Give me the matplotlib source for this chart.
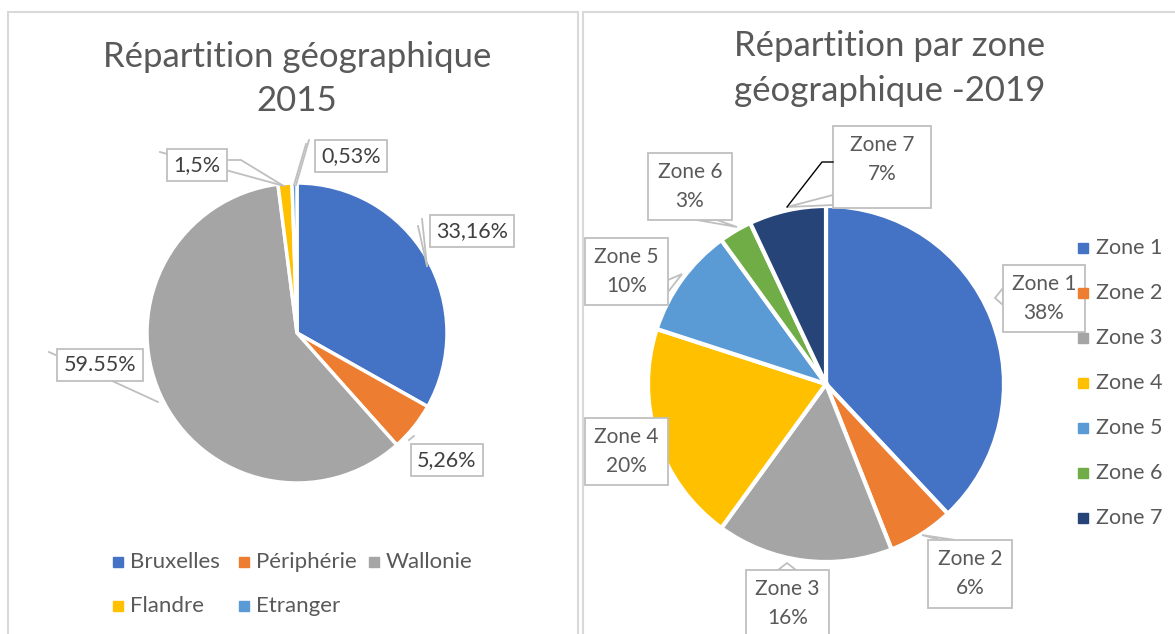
import numpy as np
import matplotlib
matplotlib.use("Agg")
import matplotlib.pyplot as plt
from matplotlib.patches import Rectangle, Polygon

plt.rcParams['font.family'] = ['Lato', 'DejaVu Sans']

# données 2015
regions_2015 = ['Bruxelles', 'Périphérie', 'Wallonie', 'Flandre', 'Etranger']
valeurs_2015 = [33.16, 5.26, 59.55, 1.5, 0.53]
etiquettes_2015 = ['33,16%', '5,26%', '59.55%', '1,5%', '0,53%']
couleurs_2015 = ['#4472C4', '#ED7D31', '#A5A5A5', '#FFC000', '#5B9BD5']

# données 2019
zones_2019 = ['Zone 1', 'Zone 2', 'Zone 3', 'Zone 4', 'Zone 5', 'Zone 6', 'Zone 7']
valeurs_2019 = [38, 6, 16, 20, 10, 3, 7]
couleurs_2019 = ['#4472C4', '#ED7D31', '#A5A5A5', '#FFC000', '#5B9BD5', '#70AD47', '#264478']

W, H = 1175, 634
GRIS_TXT = '#595959'
GRIS_BORD = '#BFBFBF'


def Y(py):
    # coordonnées pixel (origine en haut) -> coordonnées axe
    return H - py


fig = plt.figure(figsize=(W / 100, H / 100), dpi=100)
ax = fig.add_axes([0, 0, 1, 1])

# cadres des deux graphiques
ax.add_patch(Rectangle((8, Y(700)), 570, 700 - 12, fill=False, ec='#D9D9D9', lw=1.5))
ax.add_patch(Rectangle((583, Y(700)), 700, 700 - 12, fill=False, ec='#D9D9D9', lw=1.5))

# ---- camembert 2015 ----
cx1, cy1, r1 = 297, 333, 150
ax.pie(valeurs_2015, colors=couleurs_2015, startangle=90, counterclock=False,
       center=(cx1, Y(cy1)), radius=r1, frame=True,
       wedgeprops=dict(edgecolor='white', linewidth=2.5))

ax.text(cx1, Y(57), 'Répartition géographique', ha='center', va='center',
        fontsize=25, color=GRIS_TXT)
ax.text(cx1, Y(101), '2015', ha='center', va='center', fontsize=25, color=GRIS_TXT)

# étiquettes (position boîte, traits de rappel)
pos_2015 = [(472, 231), (447, 460), (100, 365), (197, 165), (351, 156)]
traits_2015 = [
    [[(418, 226), (427, 266)], [(422, 219), (427, 266)]],
    [[(409, 440), (414, 436)]],
    [[(49, 352), (158, 402)]],
    [[(160, 152), (284, 186)], [(229, 160), (241, 160), (282, 185)]],
    [[(306, 144), (294, 185)], [(309, 140), (296, 185)]],
]
for lab, (px, py), traits in zip(etiquettes_2015, pos_2015, traits_2015):
    for tr in traits:
        xs = [p[0] for p in tr]
        ys = [Y(p[1]) for p in tr]
        ax.plot(xs, ys, color=GRIS_BORD, lw=1.3, zorder=3)
    ax.text(px, Y(py), lab, ha='center', va='center', fontsize=15.5, color='#404040',
            zorder=4, bbox=dict(boxstyle='square,pad=0.3', fc='white', ec=GRIS_BORD, lw=1.3))

# légende 2015
leg_pos = [(118, 562), (244, 562), (374, 562), (118, 606), (244, 606)]
for nom, coul, (lx, ly) in zip(regions_2015, couleurs_2015, leg_pos):
    ax.add_patch(Rectangle((lx - 5, Y(ly) - 5), 10, 10, color=coul))
    ax.text(lx + 12, Y(ly), nom, ha='left', va='center', fontsize=16, color=GRIS_TXT)

# ---- camembert 2019 ----
cx2, cy2, r2 = 826, 384, 178
ax.pie(valeurs_2019, colors=couleurs_2019, startangle=90, counterclock=False,
       center=(cx2, Y(cy2)), radius=r2, frame=True,
       wedgeprops=dict(edgecolor='white', linewidth=3))

ax.text(890, Y(46), 'Répartition par zone', ha='center', va='center',
        fontsize=25, color=GRIS_TXT)
ax.text(890, Y(91), 'géographique -2019', ha='center', va='center',
        fontsize=25, color=GRIS_TXT)

# boîtes (gauche, haut, droite, bas) et pointe de la bulle
boites_2019 = [(1003, 265, 1085, 332), (928, 540, 1012, 608), (746, 570, 829, 650),
               (585, 418, 668, 485), (585, 238, 668, 305), (648, 153, 732, 220),
               (833, 126, 931, 208)]
pointes_2019 = [[(1003, 288), (995, 298), (1003, 305)],
                [(940, 540), (922, 535), (955, 540)],
                [(778, 570), (787, 563), (796, 570)],
                [(668, 425), (668, 440), (668, 432)],
                [(668, 280), (682, 274), (668, 292)],
                [(697, 220), (737, 227), (717, 220)],
                [(833, 195), (787, 207), (833, 205)]]
for i, (z, v) in enumerate(zip(zones_2019, valeurs_2019)):
    x0, y0, x1, y1 = boites_2019[i]
    ax.add_patch(Polygon([(p[0], Y(p[1])) for p in pointes_2019[i]], closed=True,
                         fc='white', ec=GRIS_BORD, lw=1.3, zorder=3))
    ax.add_patch(Rectangle((x0, Y(y1)), x1 - x0, y1 - y0, fc='white', ec=GRIS_BORD,
                           lw=1.3, zorder=4))
    ax.text((x0 + x1) / 2, Y(y0 + 33.5), f'{z}\n{v}%', ha='center', va='center',
            fontsize=15, color=GRIS_TXT, linespacing=1.6, zorder=5)

# trait noir de la zone 7
ax.plot([833, 822, 787], [Y(162), Y(162), Y(207)], color='black', lw=1, zorder=6)

# légende 2019
for i, (z, coul) in enumerate(zip(zones_2019, couleurs_2019)):
    ly = 248 + i * 45
    ax.add_patch(Rectangle((1078, Y(ly) - 5), 10, 10, color=coul, zorder=7))
    ax.text(1096, Y(ly), z, ha='left', va='center', fontsize=15.5, color=GRIS_TXT, zorder=7)

ax.set_xlim(0, W)
ax.set_ylim(0, H)
ax.set_aspect('auto')
ax.axis('off')

fig.savefig('out.png', dpi=100)
